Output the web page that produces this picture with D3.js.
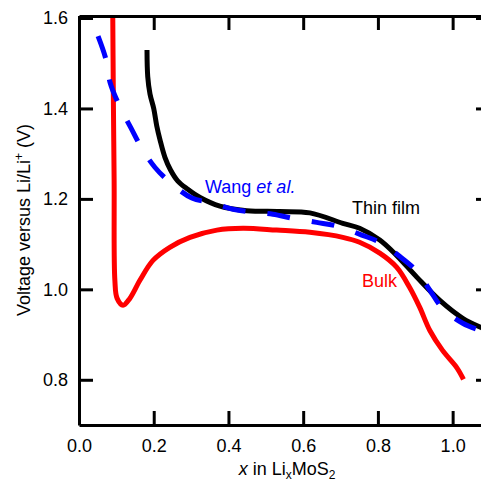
<!DOCTYPE html>
<html>
<head>
<meta charset="utf-8">
<script src="https://cdn.jsdelivr.net/npm/d3@7"></script>
<style>
  body { margin: 0; background: #fff; }
  svg { display: block; font-family: "Liberation Sans", Arial, sans-serif; }
</style>
</head>
<body>
<svg id="chart" width="481" height="481"></svg>
<script>
// values: [x in LixMoS2, voltage]
var thinFilm = [
  [0.182, 1.529], [0.184, 1.470], [0.190, 1.432], [0.200, 1.400], [0.208, 1.362],
  [0.217, 1.330], [0.230, 1.292], [0.245, 1.264], [0.264, 1.240], [0.290, 1.222],
  [0.324, 1.203], [0.377, 1.184], [0.449, 1.174], [0.537, 1.172], [0.618, 1.169],
  [0.706, 1.146], [0.751, 1.135], [0.805, 1.109], [0.850, 1.075], [0.904, 1.027],
  [0.965, 0.976], [1.027, 0.936], [1.075, 0.916], [1.11, 0.905]
];
var wang = [
  [0.051, 1.560], [0.072, 1.509], [0.083, 1.458], [0.107, 1.408], [0.139, 1.357],
  [0.168, 1.312], [0.203, 1.270], [0.243, 1.237], [0.302, 1.202], [0.356, 1.191],
  [0.412, 1.177], [0.463, 1.171], [0.519, 1.166], [0.572, 1.157], [0.636, 1.148],
  [0.690, 1.140], [0.757, 1.120], [0.805, 1.104], [0.858, 1.073], [0.904, 1.040],
  [0.939, 0.998], [0.973, 0.958], [1.027, 0.925], [1.075, 0.909], [1.11, 0.900]
];
var bulk = [
  [0.090, 1.65], [0.092, 1.419], [0.094, 1.241], [0.096, 1.020], [0.102, 0.980],
  [0.118, 0.965], [0.136, 0.980], [0.163, 1.020], [0.198, 1.064], [0.243, 1.093],
  [0.297, 1.115], [0.369, 1.131], [0.439, 1.135], [0.529, 1.131], [0.618, 1.126],
  [0.706, 1.115], [0.751, 1.104], [0.805, 1.080], [0.850, 1.049], [0.885, 1.004],
  [0.912, 0.960], [0.939, 0.909], [0.973, 0.865], [1.011, 0.827], [1.029, 0.801]
];
var xTicks = [0.0, 0.2, 0.4, 0.6, 0.8, 1.0];
var yTicks = [0.8, 1.0, 1.2, 1.4, 1.6];

var svg = d3.select("#chart");
var margin = {top: 16, right: -9, bottom: 56, left: 79},
    width = 481 - margin.left - margin.right,
    height = 481 - margin.top - margin.bottom;

var x = d3.scaleLinear().domain([0, 1.1]).range([0, width]);
var y = d3.scaleLinear().domain([0.7, 1.6]).range([height, 2]);

var g = svg.append("g").attr("transform", "translate(" + margin.left + "," + margin.top + ")");

g.append("clipPath").attr("id", "plotclip")
  .append("rect").attr("x", 0).attr("y", 0).attr("width", width).attr("height", height);

var line = d3.line()
    .x(function(d) { return x(d[0]); })
    .y(function(d) { return y(d[1]); })
    .curve(d3.curveCatmullRom.alpha(0.5));

var curves = g.append("g").attr("clip-path", "url(#plotclip)");

curves.append("path").datum(bulk)
    .attr("d", line).attr("fill", "none")
    .attr("stroke", "#ff0000").attr("stroke-width", 5).attr("stroke-linejoin", "round");

curves.append("path").datum(thinFilm)
    .attr("d", line).attr("fill", "none")
    .attr("stroke", "#000").attr("stroke-width", 5).attr("stroke-linejoin", "round");

curves.append("path").datum(wang)
    .attr("d", line).attr("fill", "none")
    .attr("stroke", "#0000ff").attr("stroke-width", 5)
    .attr("stroke-dasharray", "23,22");

// axes, ticks inside
function styleAxis(sel) {
  sel.select(".domain").attr("stroke-width", 3);
  sel.selectAll(".tick line").attr("stroke-width", 3);
  sel.selectAll("text").attr("font-size", 18).attr("fill", "#000")
     .attr("font-family", "Liberation Sans, Arial, sans-serif");
}

g.append("g").attr("transform", "translate(0," + height + ")")
  .call(d3.axisBottom(x).tickValues(xTicks).tickFormat(d3.format(".1f"))
        .tickSize(-14).tickSizeOuter(0).tickPadding(14))
  .call(styleAxis);

g.append("g")
  .call(d3.axisLeft(y).tickValues(yTicks).tickFormat(d3.format(".1f"))
        .tickSize(-14).tickSizeOuter(0).tickPadding(11))
  .call(styleAxis);

g.append("g")
  .call(d3.axisTop(x).tickValues(xTicks).tickFormat("").tickSize(-14).tickSizeOuter(0))
  .call(styleAxis);

g.append("g").attr("transform", "translate(" + width + ",0)")
  .call(d3.axisRight(y).tickValues(yTicks).tickFormat("").tickSize(-14).tickSizeOuter(0))
  .call(styleAxis);

// axis titles
var yl = svg.append("text")
    .attr("transform", "translate(30,220) rotate(-90)")
    .attr("text-anchor", "middle").attr("font-size", 18).attr("fill", "#000");
yl.append("tspan").text("Voltage versus Li/Li");
yl.append("tspan").attr("dy", -7).attr("font-size", 12).text("+");
yl.append("tspan").attr("dy", 7).text(" (V)");

var xl = svg.append("text")
    .attr("x", 287).attr("y", 475)
    .attr("text-anchor", "middle").attr("font-size", 18).attr("fill", "#000");
xl.append("tspan").attr("font-style", "italic").text("x");
xl.append("tspan").text(" in Li");
xl.append("tspan").attr("dy", 4).attr("font-size", 12).text("x");
xl.append("tspan").attr("dy", -4).text("MoS");
xl.append("tspan").attr("dy", 4).attr("font-size", 12).text("2");

// curve labels
var wl = svg.append("text").attr("x", 205).attr("y", 193)
    .attr("font-size", 18).attr("fill", "#0000ff");
wl.append("tspan").text("Wang ");
wl.append("tspan").attr("font-style", "italic").text("et al.");

svg.append("text").attr("x", 352).attr("y", 214)
    .attr("font-size", 18).attr("fill", "#000").text("Thin film");

svg.append("text").attr("x", 362).attr("y", 287)
    .attr("font-size", 18).attr("fill", "#ff0000").text("Bulk");
</script>
</body>
</html>
